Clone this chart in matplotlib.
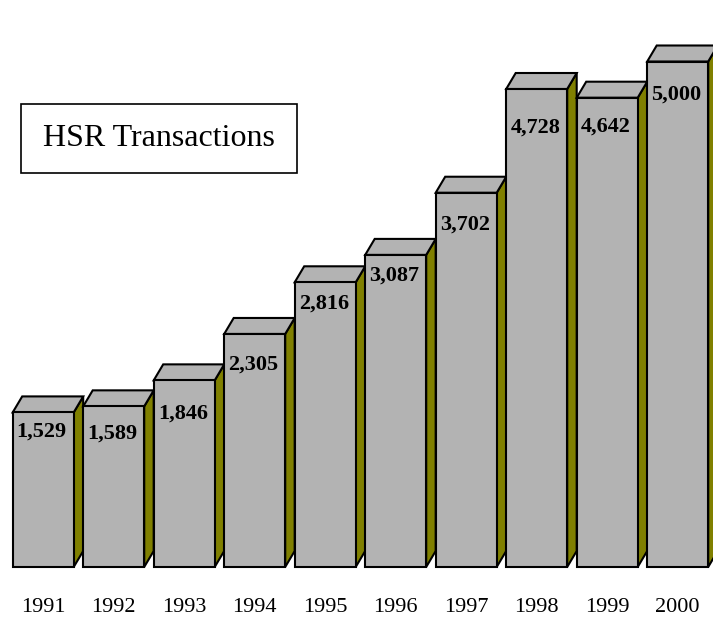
import matplotlib
matplotlib.use("Agg")
import matplotlib.pyplot as plt
from matplotlib.patches import Polygon, Rectangle

years = ["1991", "1992", "1993", "1994", "1995", "1996", "1997", "1998", "1999", "2000"]
transactions = [1529, 1589, 1846, 2305, 2816, 3087, 3702, 4728, 4642, 5000]

# layout (pixels)
W, H = 713, 622
label_drop = [19, 27, 33, 31, 21, 21, 32, 39, 29, 33]

front_color = "#B3B3B3"
top_color = "#B3B3B3"
side_color = "#808000"

fig = plt.figure(figsize=(W / 100, H / 100), dpi=100)
ax = fig.add_axes([0, 0, 1, 1])
px_x = 70.5          # pixels per bar slot
px_y = 0.1011        # pixels per transaction
ax.set_xlim(-43.2 / px_x, (W - 43.2) / px_x)
ax.set_ylim(-(H - 567) / px_y, 567 / px_y)
ax.axis("off")

bw = 61 / px_x
dx = 9.5 / px_x
dy = 16 / px_y

for i, v in enumerate(transactions):
  x0, x1 = i - bw / 2, i + bw / 2
  front = Polygon([(x0, 0), (x1, 0), (x1, v), (x0, v)], closed=True,
                  facecolor=front_color, edgecolor="black", lw=1.5, zorder=2 + i)
  side = Polygon([(x1, 0), (x1 + dx, dy), (x1 + dx, v + dy), (x1, v)], closed=True,
                 facecolor=side_color, edgecolor="black", lw=1.5, zorder=2 + i)
  top = Polygon([(x0, v), (x1, v), (x1 + dx, v + dy), (x0 + dx, v + dy)], closed=True,
                facecolor=top_color, edgecolor="black", lw=1.5, zorder=2 + i)
  for p in (side, top, front):
    ax.add_patch(p)
  ax.text(i - 0.02, v - label_drop[i] / px_y, f"{v:,}", ha="center", va="center",
          fontsize=16, fontweight="bold", family="Liberation Serif", zorder=20)
  ax.text(i, -(608 - 567) / px_y, years[i], ha="center", va="center",
          fontsize=16, family="Liberation Serif", zorder=20)

# title box
bx0, bx1, by0, by1 = 21, 297, 104, 173
fig.add_artist(Rectangle((bx0 / W, 1 - by1 / H), (bx1 - bx0) / W, (by1 - by0) / H,
                         transform=fig.transFigure, facecolor="white",
                         edgecolor="black", lw=1.2))
fig.text((bx0 + bx1) / 2 / W, 1 - (by0 + by1) / 2 / H, "HSR Transactions",
         ha="center", va="center", fontsize=23, family="Liberation Serif")

fig.savefig("out.png", dpi=100)
